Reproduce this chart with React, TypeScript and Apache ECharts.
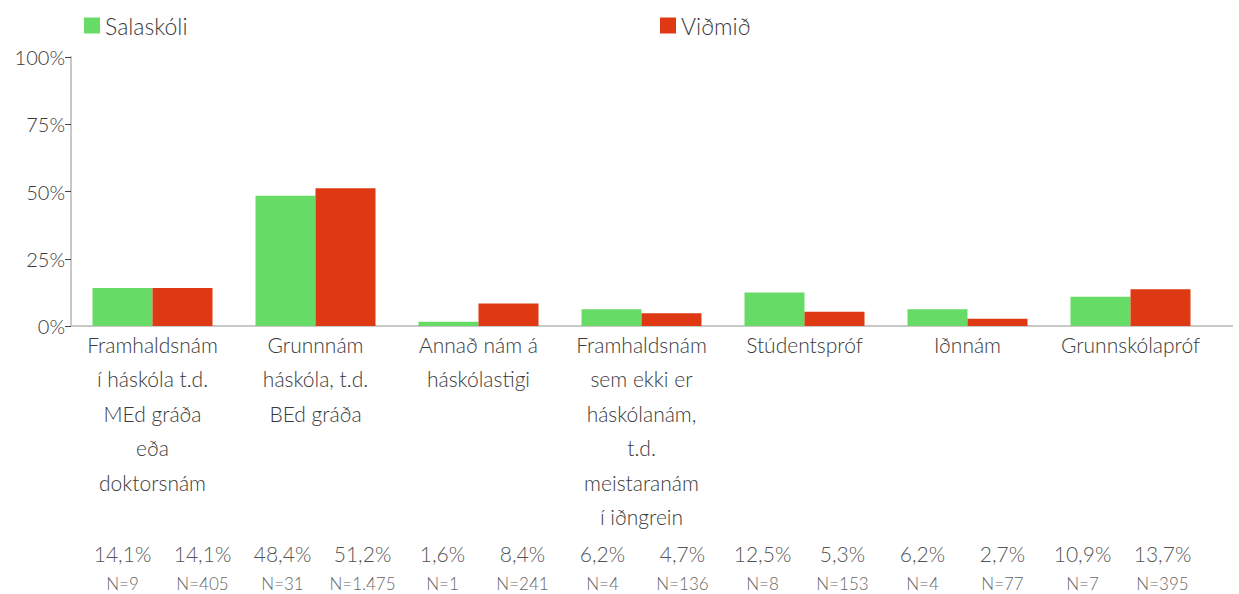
import React, { useEffect, useRef } from "react";
import * as echarts from "echarts";

const categories = [
  "Framhaldsnám\ní háskóla t.d.\nMEd gráða\neða\ndoktorsnám",
  "Grunnnám\nháskóla, t.d.\nBEd gráða",
  "Annað nám á\nháskólastigi",
  "Framhaldsnám\nsem ekki er\nháskólanám,\nt.d.\nmeistaranám\ní iðngrein",
  "Stúdentspróf",
  "Iðnnám",
  "Grunnskólapróf",
];
const seriesNames = ["Salaskóli", "Viðmið"];
const salaskoli = [14.1, 48.4, 1.6, 6.2, 12.5, 6.2, 10.9];
const vidmid = [14.1, 51.2, 8.4, 4.7, 5.3, 2.7, 13.7];
const salaskoliN = [9, 31, 1, 4, 8, 4, 7];
const vidmidN = [405, 1475, 241, 136, 153, 77, 395];
const yMin = 0;
const yMax = 100;
const yInterval = 25;

const GREEN = "#66dc66";
const RED = "#de3913";
const TEXT = "#3a3a3a";
const FONT = "Lato, 'Noto Sans', sans-serif";
const W = 300;

const fmtPct = (v: number) => v.toFixed(1).replace(".", ",") + "%";
const fmtN = (n: number) => "N=" + String(n).replace(/\B(?=(\d{3})+(?!\d))/g, ".");

// bottom table columns: one per bar (Salaskóli, Viðmið for each category)
const tableCols: string[] = categories.flatMap((_, i) => [
  `{p|${fmtPct(salaskoli[i])}}\n{n|${fmtN(salaskoliN[i])}}`,
  `{p|${fmtPct(vidmid[i])}}\n{n|${fmtN(vidmidN[i])}}`,
]);

export default function App() {
  const ref = useRef<HTMLDivElement>(null);
  useEffect(() => {
    if (!ref.current) return;
    const chart = echarts.init(ref.current, undefined, { renderer: "svg" });
    const legendText = { fontSize: 23, color: TEXT, fontFamily: FONT, fontWeight: W };
    chart.setOption({
      animation: false,
      textStyle: { fontFamily: FONT },
      legend: [
        {
          data: [seriesNames[0]],
          left: 79,
          top: 9,
          icon: "rect",
          itemWidth: 16,
          itemHeight: 16,
          textStyle: legendText,
        },
        {
          data: [seriesNames[1]],
          left: 655,
          top: 9,
          icon: "rect",
          itemWidth: 16,
          itemHeight: 16,
          textStyle: legendText,
        },
      ],
      grid: [
        { left: 71, right: 27, top: 57, bottom: 268, containLabel: false },
        { left: 82.5, right: 36.5, top: 537, height: 1, containLabel: false },
      ],
      xAxis: [
        {
          type: "category",
          gridIndex: 0,
          data: categories,
          axisLine: { show: true, lineStyle: { color: "#c8c8c8", width: 2 } },
          axisTick: { show: false },
          axisLabel: {
            interval: 0,
            fontSize: 21,
            lineHeight: 34.5,
            color: TEXT,
            margin: 1,
            fontFamily: FONT,
            fontWeight: W,
          },
        },
        {
          type: "category",
          gridIndex: 1,
          data: tableCols,
          axisLine: { show: false },
          axisTick: { show: false },
          axisLabel: {
            interval: 0,
            margin: 0,
            rich: {
              p: { fontSize: 21, lineHeight: 30, color: "#555", fontFamily: FONT, fontWeight: W },
              n: { fontSize: 17, lineHeight: 30, color: "#666", fontFamily: FONT, fontWeight: W },
            },
          },
        },
      ],
      yAxis: [
        {
          type: "value",
          gridIndex: 0,
          min: yMin,
          max: yMax,
          interval: yInterval,
          splitLine: { show: false },
          axisLine: { show: true, lineStyle: { color: "#c8c8c8", width: 2 } },
          axisTick: { show: true, length: 6, lineStyle: { color: "#444", width: 1 } },
          axisLabel: {
            formatter: "{value}%",
            fontSize: 20,
            color: TEXT,
            margin: 6,
            fontFamily: FONT,
            fontWeight: W,
          },
        },
        { type: "value", gridIndex: 1, show: false },
      ],
      graphic: [
        {
          type: "line",
          shape: { x1: 1211, y1: 326, x2: 1233, y2: 326 },
          style: { stroke: "#c8c8c8", lineWidth: 2 },
        },
      ],
      series: [
        {
          name: seriesNames[0],
          type: "bar",
          data: salaskoli,
          barWidth: 60,
          barGap: "0%",
          itemStyle: { color: GREEN },
        },
        {
          name: seriesNames[1],
          type: "bar",
          data: vidmid,
          barWidth: 60,
          barGap: "0%",
          itemStyle: { color: RED },
        },
        {
          type: "scatter",
          xAxisIndex: 1,
          yAxisIndex: 1,
          data: [],
          silent: true,
        },
      ],
    });
    return () => chart.dispose();
  }, []);
  return (
    <div
      ref={ref}
      style={{ position: "absolute", left: 0, top: 0, width: 1239, height: 594 }}
    />
  );
}
